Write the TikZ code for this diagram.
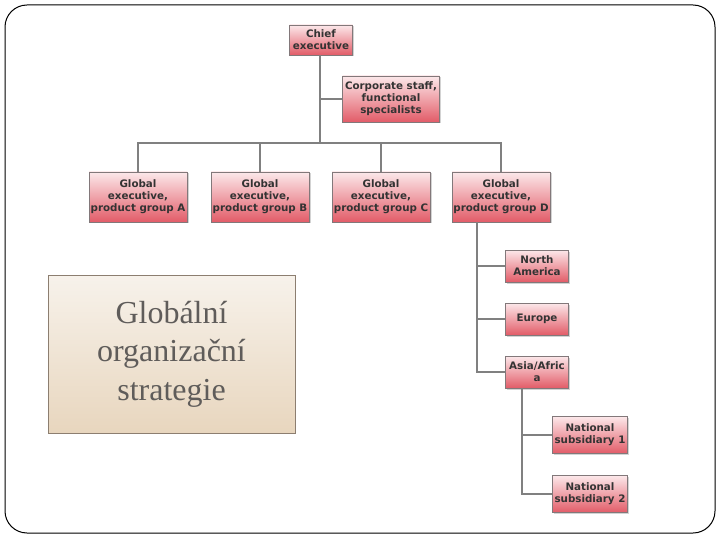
\documentclass[tikz,border=0pt]{standalone}
\usepackage{fontspec}
\setmainfont{Liberation Serif}
\newfontfamily\orgfont{DejaVu Sans}
\usepackage{xcolor}
\usepackage{tikz}
\usetikzlibrary{positioning,shadows,calc}
\definecolor{boxtop}{RGB}{252,232,234}
\definecolor{boxbot}{RGB}{226,92,104}
\definecolor{boxline}{RGB}{130,120,122}
\definecolor{linkgray}{RGB}{128,128,128}
\definecolor{strtop}{RGB}{247,242,235}
\definecolor{strbot}{RGB}{232,214,190}
\definecolor{strline}{RGB}{140,126,112}
\definecolor{strtext}{RGB}{95,92,90}
\tikzset{
  unit/.style={rectangle, draw=boxline, line width=0.6pt, top color=boxtop,
               bottom color=boxbot, align=center, inner sep=1pt,
               font=\orgfont\bfseries\fontsize{10.3}{12}\selectfont, text=black!80,
               drop shadow={opacity=0.35, shadow xshift=1.5pt, shadow yshift=-1.5pt}},
  wide/.style={unit, minimum width=98pt, minimum height=50pt},
  small/.style={unit, minimum width=63pt, minimum height=32pt},
  nat/.style={unit, minimum width=75pt, minimum height=37pt},
  conn/.style={draw=linkgray, line width=1.2pt}
}
\begin{document}
\begin{tikzpicture}[x=1pt, y=-1pt]
  \useasboundingbox (0,0) rectangle (720,540);
  \draw[line width=1pt, rounded corners=22pt] (5,5) rectangle (715,533);

  % strategy label
  \node[rectangle, draw=strline, line width=0.8pt, top color=strtop, bottom color=strbot,
        minimum width=247pt, minimum height=158pt, align=center, text=strtext,
        font=\fontsize{32}{38.5}\selectfont] (strat) at (171.5,354) {Globální\\organizační\\strategie};

  % org chart
  \node[unit, minimum width=63pt, minimum height=30pt] (ce) at (321,40) {Chief\\executive};
  \node[unit, minimum width=97pt, minimum height=46pt] (cs) at (391,99) {Corporate staff,\\functional\\specialists};
  \node[wide] (ga) at (138,197) {Global\\executive,\\product group A};
  \node[wide] (gb) at (260,197) {Global\\executive,\\product group B};
  \node[wide] (gc) at (381,197) {Global\\executive,\\product group C};
  \node[wide] (gd) at (501,197) {Global\\executive,\\product group D};
  \node[small] (na) at (537,266) {North\\America};
  \node[small] (eu) at (537,319) {Europe};
  \node[small] (as) at (537,372) {Asia/Afric\\a};
  \node[nat] (ns1) at (590,435) {National\\subsidiary 1};
  \node[nat] (ns2) at (590,494) {National\\subsidiary 2};

  \coordinate (bus) at (320,143);
  \coordinate (dtop) at (477,222);
  \coordinate (atop) at (522,388);

  \draw[conn] (ce.south -| bus) -- (bus);
  \draw[conn] (cs.west) -- (cs.west -| bus);
  \draw[conn] (ga.north) |- (bus) -| (gd.north);
  \draw[conn] (gb.north) -- (gb.north |- bus);
  \draw[conn] (gc.north) -- (gc.north |- bus);
  \draw[conn] (dtop) |- (as.west);
  \draw[conn] (na.west) -- (na.west -| dtop);
  \draw[conn] (eu.west) -- (eu.west -| dtop);
  \draw[conn] (atop) |- (ns2.west);
  \draw[conn] (ns1.west) -- (ns1.west -| atop);
\end{tikzpicture}
\end{document}
